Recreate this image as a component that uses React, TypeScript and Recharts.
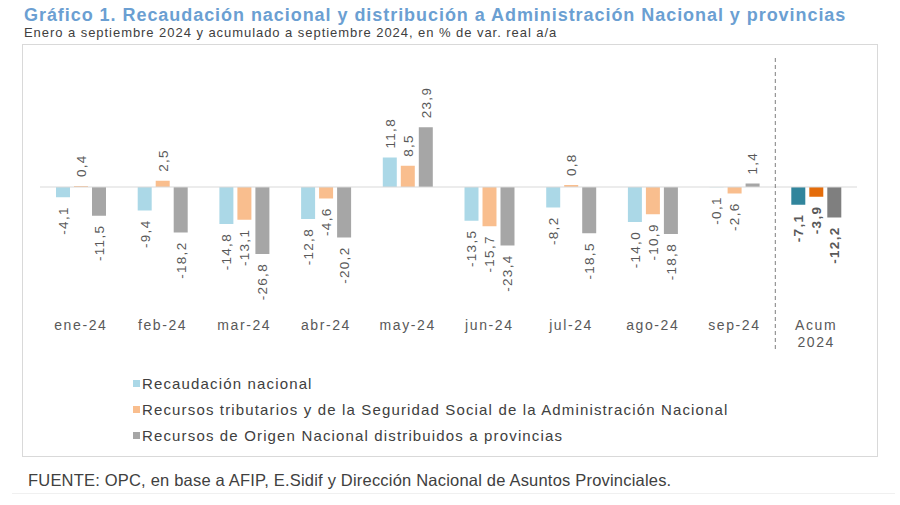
import React from 'react';
import { BarChart, Bar, XAxis, YAxis, Cell, LabelList, ReferenceLine } from 'recharts';

const categories = ['ene-24', 'feb-24', 'mar-24', 'abr-24', 'may-24', 'jun-24', 'jul-24', 'ago-24', 'sep-24', 'Acum 2024'];
const recaudacion = [-4.1, -9.4, -14.8, -12.8, 11.8, -13.5, -8.2, -14.0, -0.1, -7.1];
const tributarios = [0.4, 2.5, -13.1, -4.6, 8.5, -15.7, 0.8, -10.9, -2.6, -3.9];
const ron = [-11.5, -18.2, -26.8, -20.2, 23.9, -23.4, -18.5, -18.8, 1.4, -12.2];

const seriesNames = [
  'Recaudación nacional',
  'Recursos tributarios y de la Seguridad Social de la Administración Nacional',
  'Recursos de Origen Nacional distribuidos a provincias',
];
const seriesKeys = ['rec', 'trib', 'ron'];
const lightColors = ['#abd8e7', '#f9be8e', '#a6a6a6'];
const darkColors = ['#31859c', '#e46c0a', '#7f7f7f'];

const data = categories.map((cat, i) => ({
  cat,
  rec: recaudacion[i],
  trib: tributarios[i],
  ron: ron[i],
}));

const FONT = '"Liberation Sans", Arial, sans-serif';
const lastIdx = categories.length - 1;

function ValueLabel(props: any) {
  const { x, y, width, height, value, index } = props;
  if (value == null) return null;
  const top = Math.min(y, y + height);
  const bottom = Math.max(y, y + height);
  const cx = x + width / 2;
  const neg = value < 0;
  const ay = neg ? bottom + 9 : top - 9;
  const txt = Number(value).toFixed(1).replace('.', ',');
  return (
    <text
      x={cx}
      y={ay}
      transform={`rotate(-90 ${cx} ${ay})`}
      textAnchor={neg ? 'end' : 'start'}
      dy="0.36em"
      fontSize={13.5}
      letterSpacing={1.3}
      fontFamily={FONT}
      fontWeight={index === lastIdx ? 'bold' : 'normal'}
      fill="#595959"
    >
      {txt}
    </text>
  );
}

function CatTick(props: any) {
  const { x, y, payload } = props;
  const lines = String(payload.value).split(' ');
  return (
    <text x={x} y={y} textAnchor="middle" fontSize={14} letterSpacing={1.6} fontFamily={FONT} fill="#595959">
      {lines.map((l, i) => (
        <tspan key={i} x={x} dy={i === 0 ? 10 : 17}>{l}</tspan>
      ))}
    </text>
  );
}

function DashedDivider(props: any) {
  const { x1, x2, y1, y2 } = props;
  return (
    <line
      x1={x1}
      x2={x2}
      y1={Math.min(y1, y2) - 4}
      y2={Math.max(y1, y2) + 40}
      stroke="#7f7f7f"
      strokeWidth={1}
      strokeDasharray="4 3"
    />
  );
}

export default function App() {
  return (
    <div style={{ position: 'absolute', left: 0, top: 0, width: 900, height: 505, background: '#fff', fontFamily: FONT }}>
      <div style={{ position: 'absolute', left: 24, top: 6, fontSize: 18, lineHeight: '18px', fontWeight: 'bold', color: '#6b9fd2', whiteSpace: 'nowrap', letterSpacing: 0.95 }}>
        Gráfico 1. Recaudación nacional y distribución a Administración Nacional y provincias
      </div>
      <div style={{ position: 'absolute', left: 24, top: 26, fontSize: 13, lineHeight: '13px', color: '#404040', whiteSpace: 'nowrap', letterSpacing: 0.95 }}>
        Enero a septiembre 2024 y acumulado a septiembre 2024, en % de var. real a/a
      </div>
      <div style={{ position: 'absolute', left: 22, top: 44, width: 854, height: 411, border: '1px solid #d9d9d9' }} />
      <div style={{ position: 'absolute', left: 12, top: 493, width: 883, height: 1, background: '#f0f0f0' }} />

      <div style={{ position: 'absolute', left: 0, top: 0 }}>
        <BarChart
          width={900}
          height={360}
          data={data}
          margin={{ top: 62, right: 43, left: 40, bottom: 0 }}
          barGap={4}
          barSize={14}
        >
          <XAxis dataKey="cat" axisLine={false} tickLine={false} interval={0} height={48} tick={<CatTick />} />
          <YAxis hide domain={[-50, 50]} />
          <ReferenceLine y={0} stroke="#d9d9d9" strokeWidth={1} />
          <ReferenceLine x="Acum 2024" position="start" shape={<DashedDivider />} />
          {seriesKeys.map((k, si) => (
            <Bar key={k} dataKey={k} name={seriesNames[si]} fill={lightColors[si]} isAnimationActive={false}>
              {data.map((_, i) => (
                <Cell key={i} fill={i === lastIdx ? darkColors[si] : lightColors[si]} />
              ))}
              <LabelList dataKey={k} content={<ValueLabel />} />
            </Bar>
          ))}
        </BarChart>
      </div>

      <div style={{ position: 'absolute', left: 133, top: 370 }}>
        {seriesNames.map((n, i) => (
          <div key={n} style={{ display: 'flex', alignItems: 'center', height: 26, fontSize: 15, color: '#404040', letterSpacing: 1.15, whiteSpace: 'nowrap' }}>
            <span style={{ display: 'inline-block', width: 7, height: 7, background: lightColors[i], marginRight: 2 }} />
            {n}
          </div>
        ))}
      </div>

      <div style={{ position: 'absolute', left: 28, top: 472, fontSize: 16.5, lineHeight: '17px', color: '#404040', whiteSpace: 'nowrap', letterSpacing: 0.2, fontFamily: '"Liberation Sans Narrow", "Liberation Sans", Arial, sans-serif' }}>
        FUENTE: OPC, en base a AFIP, E.Sidif y Dirección Nacional de Asuntos Provinciales.
      </div>
    </div>
  );
}
